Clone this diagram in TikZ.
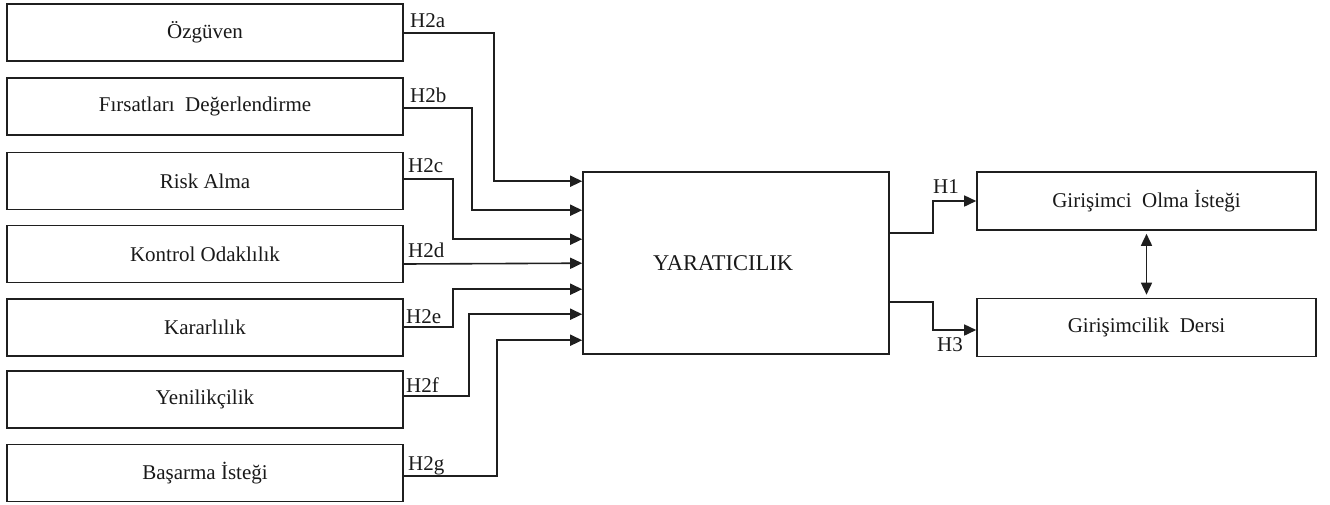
\documentclass[tikz,border=0pt]{standalone}
\usepackage{fontspec}
\setmainfont{Liberation Serif}
\usetikzlibrary{arrows.meta,calc}
\begin{document}
\begin{tikzpicture}[x=1pt,y=-1pt,
  box/.style={draw=black!88,line width=1.6pt,rectangle,inner sep=0pt,
    font=\fontsize{21}{25}\selectfont,text=black!90},
  lbox/.style={box,minimum width=396pt,minimum height=57pt},
  rbox/.style={box,minimum width=339pt,minimum height=58pt},
  conn/.style={draw=black!88,line width=1.6pt,-{Triangle[length=12pt,width=11pt]}},
  dconn/.style={draw=black!88,line width=1.6pt,{Triangle[length=12pt,width=11pt]}-{Triangle[length=12pt,width=11pt]}},
  hlab/.style={anchor=base west,inner sep=0pt,font=\fontsize{21}{25}\selectfont,text=black!90}]
\useasboundingbox (0,0) rectangle (1330,504);
% left boxes
\node[lbox] (b1) at (205,32.5) {Özgüven};
\node[lbox] (b2) at (205,106.5) {Fırsatları~ Değerlendirme};
\node[lbox] (b3) at (205,181) {Risk Alma};
\node[lbox] (b4) at (205,254) {Kontrol Odaklılık};
\node[lbox] (b5) at (205,327.5) {Kararlılık};
\node[lbox] (b6) at (205,399.5) {Yenilikçilik};
\node[lbox] (b7) at (205,473) {Başarma İsteği};
% central box
\node[box,minimum width=306pt,minimum height=182pt] (Y) at (736,263)
  {{\fontsize{22.5}{26}\selectfont YARATICILIK}\rule{26pt}{0pt}};
% right boxes
\node[rbox] (r1) at (1146.5,201) {Girişimci~ Olma İsteği};
\node[rbox] (r2) at (1146.5,327.5) {Girişimcilik~ Dersi};
% labels
\node[hlab] (l2a) at (410,27) {H2a};
\node[hlab] (l2b) at (410,102) {H2b};
\node[hlab] (l2c) at (408,172) {H2c};
\node[hlab] (l2d) at (408,257) {H2d};
\node[hlab] (l2e) at (406,323) {H2e};
\node[hlab] (l2f) at (406,392) {H2f};
\node[hlab] (l2g) at (408,470) {H2g};
\node[hlab] (l1) at (933,193) {H1};
\node[hlab] (l3) at (937,351) {H3};
% connectors into YARATICILIK
\draw[conn] ($(b1.east)+(0,0.5)$) -- ++(90,0) |- ($(Y.north west)+(0,10)$);
\draw[conn] ($(b2.east)+(0,1.5)$) -- ++(68,0) |- ($(Y.north west)+(0,39)$);
\draw[conn] ($(b3.east)+(0,-2)$) -- ++(49,0) |- ($(Y.north west)+(0,68)$);
\draw[conn] ($(b4.east)+(0,10)$) -- ($(Y.north west)+(0,92)$);
\draw[conn] ($(b5.east)+(0,-0.5)$) -- ++(49,0) |- ($(Y.north west)+(0,118)$);
\draw[conn] ($(b6.east)+(0,-3.5)$) -- ++(65,0) |- ($(Y.north west)+(0,143)$);
\draw[conn] ($(b7.east)+(0,3)$) -- ++(93,0) |- ($(Y.north west)+(0,169)$);
% outputs
\draw[conn] ($(Y.east)+(0,-30)$) -- ++(43,0) |- (r1.west);
\draw[conn] ($(Y.east)+(0,39)$) -- ++(43,0) |- ($(r2.west)+(0,2.5)$);
\draw[dconn,shorten <=3pt,shorten >=3pt] (r1.south) -- (r2.north);
\end{tikzpicture}
\end{document}
